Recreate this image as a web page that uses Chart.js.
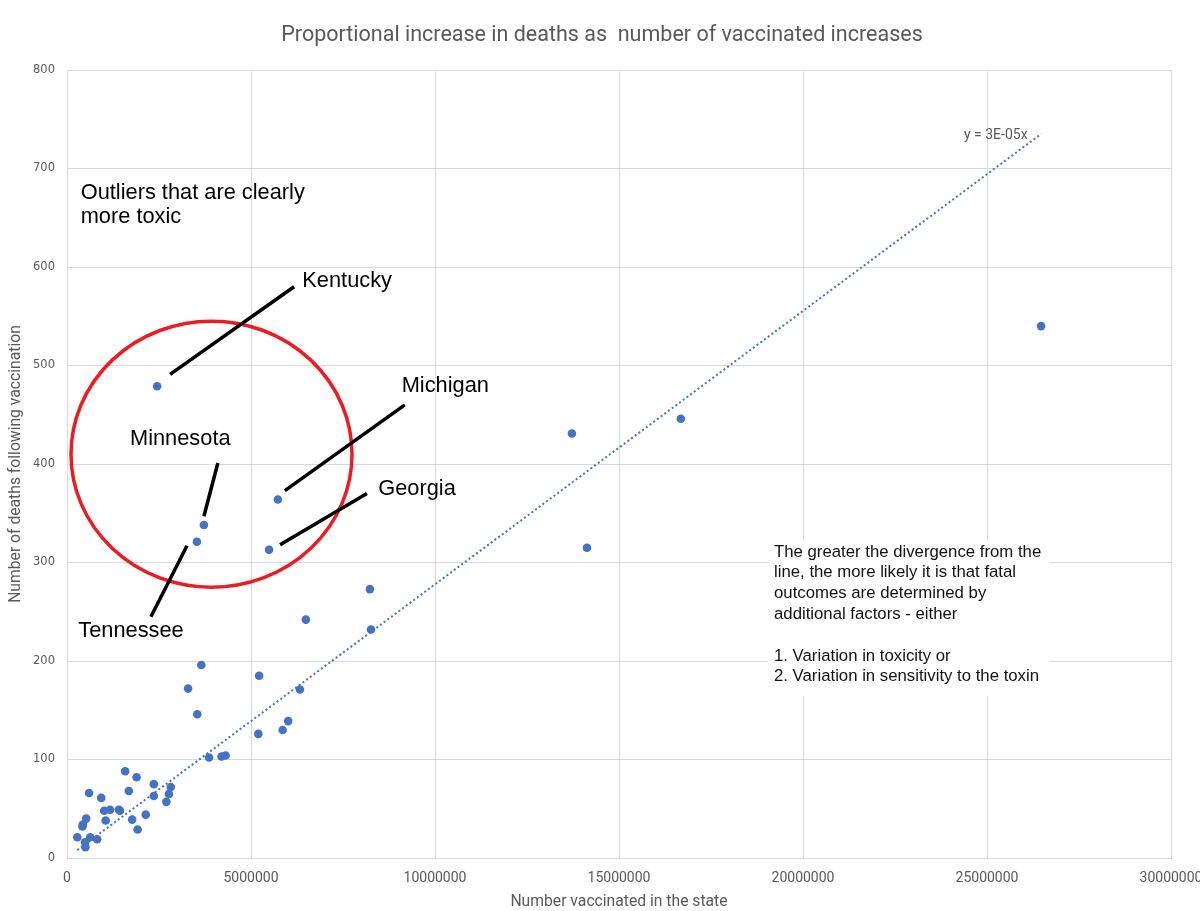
<!DOCTYPE html>
<html>
<head>
<meta charset="utf-8">
<script src="https://cdn.jsdelivr.net/npm/chart.js@4.4.1/dist/chart.umd.min.js"></script>
<style>
  html, body { margin: 0; padding: 0; background: #fff; }
  #wrap { width: 1200px; height: 911px; }
</style>
</head>
<body>
<div id="wrap"><canvas id="scatterChart" width="1200" height="911"></canvas></div>
<script>
// Data: one point per state
const vaccinated = [
  26470000, 16680000, 13720000, 14130000, 2450000, 5730000, 5490000, 3720000, 3530000,
  8230000, 8260000, 6490000, 3650000, 5220000, 3290000, 6330000, 3540000, 5200000,
  6010000, 5860000, 3860000, 4200000, 4310000, 1580000, 1890000, 2360000, 2820000,
  600000, 930000, 1680000, 2360000, 2770000, 2700000, 1010000, 1170000, 1410000,
  1440000, 2140000, 1050000, 1770000, 520000, 430000, 420000, 1920000, 280000,
  630000, 820000, 490000, 500000
];
const deaths = [
  540, 446, 431, 315, 479, 364, 313, 338, 321,
  273, 232, 242, 196, 185, 172, 171, 146, 126,
  139, 130, 102, 103, 104, 88, 82, 75, 72,
  66, 61, 68, 63, 65, 57, 48, 49, 49,
  48, 44, 38, 39, 40, 34, 32, 29, 21,
  21, 19, 16, 11
];

// dotted trendline ends, as drawn
const trendX = [280000, 26470000];
const trendY = [8, 735];
const trendLabel = 'y = 3E-05x';

const xTicks = [0, 5000000, 10000000, 15000000, 20000000, 25000000, 30000000];
const yTicks = [0, 100, 200, 300, 400, 500, 600, 700, 800];

const chartTitle = 'Proportional increase in deaths as  number of vaccinated increases';
const xTitle = 'Number vaccinated in the state';
const yTitle = 'Number of deaths following vaccination';

const blue = '#4472C4';
const grey = '#595959';
const narrow = 'Roboto, sans-serif';
const arial = '"Liberation Sans", Arial, sans-serif';

// hand drawn annotations, in data units
const circle = { x: 3927000, y: 410, rx: 3818000, ry: 135 };
const pointers = [
  [2800000, 491, 6170000, 580],   // Kentucky
  [5920000, 373, 9180000, 460],   // Michigan
  [4100000, 401, 3720000, 347],   // Minnesota
  [5790000, 318, 8150000, 370],   // Georgia
  [3260000, 317, 2280000, 245]    // Tennessee
];
const stateLabels = [
  { text: 'Kentucky', x: 6394000, y: 580 },
  { text: 'Michigan', x: 9095000, y: 473 },
  { text: 'Minnesota', x: 1712000, y: 419 },
  { text: 'Georgia', x: 8459000, y: 368.5 },
  { text: 'Tennessee', x: 307000, y: 224.7 }
];
const outlierNote = ['Outliers that are clearly', 'more toxic'];
const boxNote = [
  'The greater the divergence from the',
  'line, the more likely it is that fatal',
  'outcomes are determined by',
  'additional factors - either',
  '',
  '1. Variation in toxicity or',
  '2. Variation in sensitivity to the toxin'
];

const notes = {
  id: 'notes',
  beforeDraw(chart) {
    const ctx = chart.ctx;
    ctx.save();
    ctx.fillStyle = '#fff';
    ctx.fillRect(0, 0, chart.width, chart.height);
    ctx.fillStyle = grey;
    ctx.font = '21.5px ' + narrow;
    ctx.textAlign = 'center';
    ctx.textBaseline = 'middle';
    ctx.fillText(chartTitle, 602, 36);
    ctx.restore();
  },
  beforeDatasetsDraw(chart) {
    const { ctx, scales: { x, y } } = chart;
    // white text box hides the grid behind it
    ctx.save();
    ctx.fillStyle = '#fff';
    const l = x.getPixelForValue(19050000), r = x.getPixelForValue(26710000);
    const t = y.getPixelForValue(323), b = y.getPixelForValue(164.5);
    ctx.fillRect(l, t, r - l, b - t);
    ctx.restore();
  },
  afterDatasetsDraw(chart) {
    const { ctx, scales: { x, y } } = chart;
    const px = v => x.getPixelForValue(v);
    const py = v => y.getPixelForValue(v);
    ctx.save();

    ctx.fillStyle = grey;
    ctx.font = '14px ' + narrow;
    ctx.textBaseline = 'alphabetic';
    ctx.fillText(trendLabel, px(24375000), py(729.6));

    ctx.strokeStyle = '#ED1C24';
    ctx.lineWidth = 3.5;
    ctx.beginPath();
    const cx = px(circle.x), cy = py(circle.y);
    ctx.ellipse(cx, cy, px(circle.x + circle.rx) - cx, cy - py(circle.y + circle.ry), 0, 0, Math.PI * 2);
    ctx.stroke();

    ctx.strokeStyle = '#000';
    ctx.lineWidth = 3.5;
    pointers.forEach(p => {
      ctx.beginPath();
      ctx.moveTo(px(p[0]), py(p[1]));
      ctx.lineTo(px(p[2]), py(p[3]));
      ctx.stroke();
    });

    ctx.fillStyle = '#000';
    ctx.font = '21.8px ' + arial;
    stateLabels.forEach(s => ctx.fillText(s.text, px(s.x), py(s.y)));
    ctx.fillText(outlierNote[0], px(372000), py(668.7));
    ctx.fillText(outlierNote[1], px(372000), py(644.9));

    ctx.font = '16.75px ' + arial;
    ctx.fillStyle = '#111';
    const bx = px(19212000), by = py(305.9);
    boxNote.forEach((line, i) => ctx.fillText(line, bx, by + i * 20.8));
    ctx.restore();
  }
};

const points = vaccinated.map((v, i) => ({ x: v, y: deaths[i] }));
const trend = trendX.map((v, i) => ({ x: v, y: trendY[i] }));

new Chart(document.getElementById('scatterChart'), {
  type: 'scatter',
  data: {
    datasets: [
      {
        data: points,
        backgroundColor: blue,
        borderWidth: 0,
        pointRadius: 4.3,
        pointHoverRadius: 4.3
      },
      {
        type: 'line',
        data: trend,
        borderColor: blue,
        borderWidth: 2,
        borderDash: [2, 2.6],
        pointRadius: 0,
        fill: false
      }
    ]
  },
  options: {
    responsive: false,
    animation: false,
    events: [],
    layout: { padding: { top: 70, right: 29, bottom: 0, left: 0 } },
    plugins: { legend: { display: false }, tooltip: { enabled: false } },
    scales: {
      x: {
        type: 'linear',
        min: 0, max: 30000000,
        afterBuildTicks: s => { s.ticks = xTicks.map(v => ({ value: v })); },
        afterFit: s => { s.height = 53; s.paddingLeft = 0; s.paddingRight = 0; },
        grid: { color: '#d9d9d9', drawTicks: false },
        border: { color: '#d9d9d9' },
        ticks: { padding: 12, maxRotation: 0, autoSkip: false, color: grey, font: { family: narrow, size: 14 }, callback: v => String(v) },
        title: { display: true, text: xTitle, color: grey, font: { family: narrow, size: 15.7 }, padding: { top: 0, bottom: 0 } }
      },
      y: {
        min: 0, max: 800,
        afterBuildTicks: s => { s.ticks = yTicks.map(v => ({ value: v })); },
        afterFit: s => { s.width = 67; s.paddingTop = 0; s.paddingBottom = 0; },
        grid: { color: '#d9d9d9', drawTicks: false },
        border: { color: '#d9d9d9' },
        ticks: { padding: 12, color: grey, font: { family: '"DejaVu Sans", sans-serif', size: 11.5 }, callback: v => String(v) },
        title: { display: true, text: yTitle, color: grey, font: { family: narrow, size: 15.7 }, padding: { top: 7, bottom: 0 } }
      }
    }
  },
  plugins: [notes]
});
</script>
</body>
</html>
